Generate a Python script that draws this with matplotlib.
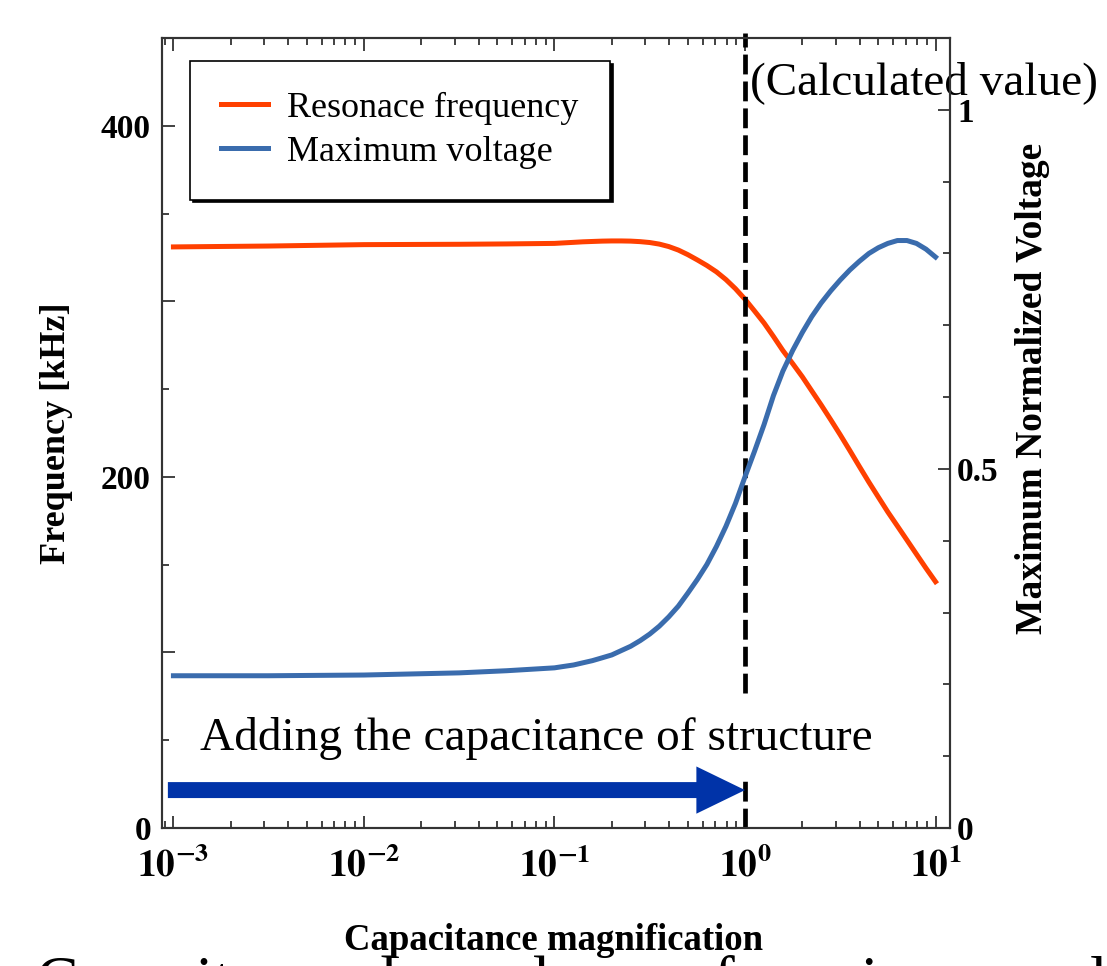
import numpy as np
import matplotlib
matplotlib.use('Agg')
import matplotlib.pyplot as plt
from matplotlib.ticker import MultipleLocator, LogLocator, NullFormatter

# capacitance magnification (x) and the two simulated responses
cap_mag = [0.001, 0.00316, 0.01, 0.0316, 0.0562,
           0.1, 0.112, 0.126, 0.141, 0.158, 0.178, 0.2, 0.224, 0.251, 0.282,
           0.316, 0.355, 0.398, 0.447, 0.501, 0.562, 0.631, 0.708, 0.794, 0.891,
           1.0, 1.12, 1.26, 1.41, 1.58, 1.78, 2.0, 2.24, 2.51, 2.82,
           3.16, 3.55, 3.98, 4.47, 5.01, 5.62, 6.31, 7.08, 7.94, 8.91, 10.0]
freq_khz = [331.0, 331.5, 332.3, 332.5, 332.7,
            333.0, 333.3, 333.6, 333.9, 334.1, 334.3, 334.4, 334.4, 334.3, 334.0,
            333.5, 332.6, 331.2, 329.2, 326.6, 323.6, 320.4, 316.8, 312.4, 307.2,
            301.2, 294.6, 287.6, 280.0, 272.0, 264.5, 257.0, 249.0, 241.0, 232.5,
            224.0, 215.0, 206.0, 197.0, 188.5, 180.0, 172.0, 164.0, 156.0, 148.0, 140.3]
max_volt = [0.212, 0.212, 0.213, 0.216, 0.219,
            0.223, 0.225, 0.227, 0.230, 0.233, 0.237, 0.241, 0.247, 0.253, 0.261,
            0.270, 0.281, 0.294, 0.309, 0.327, 0.346, 0.367, 0.392, 0.420, 0.452,
            0.489, 0.524, 0.562, 0.602, 0.636, 0.665, 0.690, 0.712, 0.731, 0.748,
            0.763, 0.777, 0.789, 0.800, 0.808, 0.814, 0.818, 0.818, 0.814, 0.806, 0.795]

calc_mag = 1.0          # calculated structure capacitance
arrow_start = 9.35e-4

x_ticks = [1e-3, 1e-2, 1e-1, 1, 10]
x_ticklabels = [r'$\mathbf{10^{-3}}$', r'$\mathbf{10^{-2}}$', r'$\mathbf{10^{-1}}$',
                r'$\mathbf{10^{0}}$', r'$\mathbf{10^{1}}$']
f_ticks = [0, 100, 200, 300, 400]
f_ticklabels = ['0', '', '200', '', '400']
v_ticks = [0, 0.5, 1]
v_ticklabels = ['0', '0.5', '1']

ORANGE = '#FF4000'
BLUE = '#3A6CAD'
ARROW_BLUE = '#0033A8'
AX_COLOR = '#333333'

plt.rcParams['font.family'] = ['Liberation Serif', 'DejaVu Serif']
plt.rcParams['mathtext.fontset'] = 'stix'

fig = plt.figure(figsize=(11.07, 9.66), dpi=100)
ax = fig.add_axes([162 / 1107, 138 / 966, 788 / 1107, 790 / 966])
ax2 = ax.twinx()

l1, = ax.plot(cap_mag, freq_khz, color=ORANGE, lw=3.6, solid_joinstyle='round',
              label='Resonace frequency')
l2, = ax2.plot(cap_mag, max_volt, color=BLUE, lw=3.6, solid_joinstyle='round',
               label='Maximum voltage')

ax.set_xscale('log')
ax.set_xlim(10 ** -3.06, 10 ** 1.076)
ax.set_ylim(0, 450)
ax2.set_ylim(0, 1.1)

ax.set_xticks(x_ticks, labels=x_ticklabels, fontsize=27)
ax.xaxis.set_minor_locator(LogLocator(base=10, subs=np.arange(2, 10) * 1.0, numticks=20))
ax.xaxis.set_minor_formatter(NullFormatter())
ax.set_yticks(f_ticks, labels=f_ticklabels, fontsize=24, fontweight='bold')
ax.yaxis.set_minor_locator(MultipleLocator(50))
ax2.set_yticks(v_ticks, labels=v_ticklabels, fontsize=24, fontweight='bold')
ax2.yaxis.set_minor_locator(MultipleLocator(0.1))

for a in (ax, ax2):
    a.tick_params(which='both', direction='in', color=AX_COLOR, width=1.3)
    a.tick_params(which='major', length=9)
    a.tick_params(which='minor', length=5)
    for s in a.spines.values():
        s.set_linewidth(1.5)
        s.set_color(AX_COLOR)
ax.tick_params(axis='x', which='both', top=True, pad=14)
ax.tick_params(axis='y', pad=8)
ax2.tick_params(axis='y', pad=5)

ax.set_xlabel('Capacitance magnification', fontsize=26.5, fontweight='bold', va='center')
ax.xaxis.set_label_coords((554 - 162) / 788, (828 - 940) / 790)
ax.set_ylabel('Frequency [kHz]', fontsize=26, fontweight='bold', va='center')
ax.yaxis.set_label_coords((57 - 162) / 788, 0.5)
ax2.set_ylabel('Maximum Normalized Voltage', fontsize=27, fontweight='bold',
               rotation=90, va='center')
ax2.yaxis.set_label_coords((1033 - 162) / 788, (828 - 388) / 790)

# dashed marker at the calculated capacitance, broken around the annotation text
dash_kw = dict(color='black', lw=3.4, dashes=(4.2, 1.5), clip_on=False)
ax.axvline(calc_mag, ymin=77 / 450, ymax=1.006, **dash_kw)
ax.axvline(calc_mag, ymin=0, ymax=27 / 450, **dash_kw)

xt = ax.get_xaxis_transform()
ax.annotate('', xy=(calc_mag, 0.048), xytext=(arrow_start, 0.048),
            xycoords=xt, textcoords=xt,
            arrowprops=dict(arrowstyle='simple,head_length=35,head_width=34,tail_width=11.5',
                            mutation_scale=1, color=ARROW_BLUE, lw=0,
                            shrinkA=0, shrinkB=0))

ax.text(0.048, 0.0987, 'Adding the capacitance of structure', transform=ax.transAxes,
        fontsize=34, va='baseline', ha='left')
ax.text(0.746, 0.929, '(Calculated value)', transform=ax.transAxes,
        fontsize=34, va='baseline', ha='left')

leg = ax2.legend(handles=[l1, l2], loc='upper left',
                 bbox_to_anchor=(0.0355, 0.971, 0.533, 0), mode='expand',
                 borderaxespad=0, fontsize=26, fancybox=False,
                 shadow={'color': 'black', 'alpha': 1},
                 borderpad=0.85, handlelength=1.3, handletextpad=0.55,
                 labelspacing=0.3)
leg.get_frame().set_edgecolor('black')
leg.get_frame().set_linewidth(1.2)

fig.text(36 / 1107, -34 / 966, 'Capacitance dependence of maximum voltage and resonance frequency',
         fontsize=46, va='baseline', ha='left')

fig.savefig('out.png', dpi=100)
